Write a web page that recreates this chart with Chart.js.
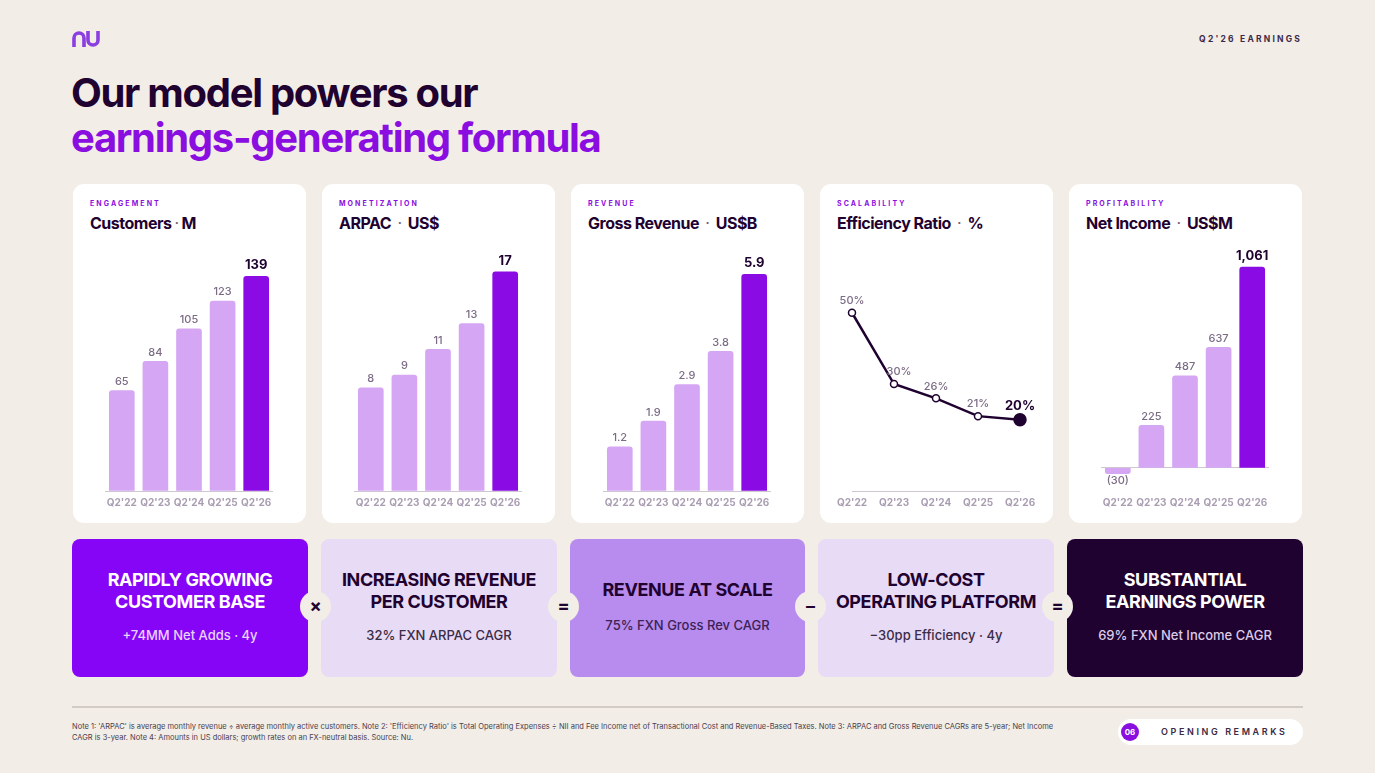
<!DOCTYPE html>
<html>
<head>
<meta charset="utf-8">
<script src="https://cdn.jsdelivr.net/npm/chart.js@4"></script>
<style>
  html, body { margin: 0; padding: 0; }
  body { width: 1375px; height: 773px; background: #f2ede6; position: relative; overflow: hidden; font-family: Inter, "Noto Sans", sans-serif; color: #1f0230; }
  .abs { position: absolute; }
  .logo { left: 72px; top: 30px; }
  .tag { right: 73px; top: 34px; font-size: 8.5px; font-weight: 700; letter-spacing: 2.2px; color: #3d2a4a; }
  .title { left: 71px; top: 70px; font-size: 40px; font-weight: 700; letter-spacing: -1.3px; line-height: 45px; }
  .title .l2 { color: #8a0ee0; }
  .card { top: 184px; width: 233px; height: 339px; background: #fff; border-radius: 11px; }
  .card .kicker { position: absolute; left: 17px; top: 15px; font-size: 7px; font-weight: 700; letter-spacing: 2.1px; color: #8a0ee0; }
  .card .head { position: absolute; left: 17px; top: 29px; font-size: 16px; font-weight: 700; letter-spacing: -0.5px; color: #1f0230; }
  .card .head .dot { font-weight: 400; color: #6e5f78; padding: 0 3px; }
  .card canvas { position: absolute; left: 0; top: 56px; }
  .box { top: 539px; height: 138px; width: 236px; border-radius: 8px; text-align: center; }
  .box .bt { position: absolute; left: 0; right: 0; font-size: 18px; font-weight: 700; letter-spacing: -0.4px; line-height: 22px; }
  .box .bs { position: absolute; left: 0; right: 0; font-size: 13px; font-weight: 500; }
  .op { width: 31px; height: 31px; border-radius: 50%; background: #f2ede6; top: 591px; text-align: center; line-height: 30px; font-size: 18px; font-weight: 700; color: #1f0230; }
  .rule { left: 72px; top: 706px; width: 1231px; height: 2px; background: #d3cbc8; }
  .note { left: 72px; top: 721px; width: 1040px; font-size: 7.5px; line-height: 11px; color: #4a4050; }
  .pill { left: 1118px; top: 719px; width: 185px; height: 26px; background: #fff; border-radius: 13px; }
  .pill .num { position: absolute; left: 3px; top: 4px; width: 18px; height: 18px; border-radius: 50%; background: #8a0ee0; color: #fff; font-size: 8px; font-weight: 700; text-align: center; line-height: 18px; }
  .pill .txt { position: absolute; left: 43px; top: 7px; font-size: 9px; font-weight: 600; letter-spacing: 2.6px; color: #3a2a45; }
</style>
</head>
<body>
<svg class="abs logo" width="30" height="18" viewBox="0 0 30 18">
  <path d="M2 17 V8 a5 5 0 0 1 10 0 V17" fill="none" stroke="#8b3fe0" stroke-width="3.6"/>
  <path d="M16 1 V10 a5 5 0 0 0 10 0 V1" fill="none" stroke="#8b3fe0" stroke-width="3.6"/>
</svg>
<div class="abs tag">Q2'26 EARNINGS</div>
<div class="abs title"><div>Our model powers our</div><div class="l2">earnings-generating formula</div></div>

<div class="abs card" style="left:73px"><div class="kicker">ENGAGEMENT</div><div class="head">Customers<span class="dot">·</span>M</div><canvas id="c1"></canvas></div>
<div class="abs card" style="left:322px"><div class="kicker">MONETIZATION</div><div class="head">ARPAC <span class="dot">·</span> US$</div><canvas id="c2"></canvas></div>
<div class="abs card" style="left:571px"><div class="kicker">REVENUE</div><div class="head">Gross Revenue <span class="dot">·</span> US$B</div><canvas id="c3"></canvas></div>
<div class="abs card" style="left:820px"><div class="kicker">SCALABILITY</div><div class="head">Efficiency Ratio <span class="dot">·</span> %</div><canvas id="c4"></canvas></div>
<div class="abs card" style="left:1069px"><div class="kicker">PROFITABILITY</div><div class="head">Net Income <span class="dot">·</span> US$M</div><canvas id="c5"></canvas></div>

<div class="abs box" style="left:72px;background:#8605f7;color:#fff">
  <div class="bt" style="top:30px">RAPIDLY GROWING<br>CUSTOMER BASE</div>
  <div class="bs" style="top:88px;color:#e9d2ff">+74MM Net Adds · 4y</div>
</div>
<div class="abs box" style="left:321px;background:#e7dbf5;color:#1f0230">
  <div class="bt" style="top:30px">INCREASING REVENUE<br>PER CUSTOMER</div>
  <div class="bs" style="top:88px;color:#3b2b48">32% FXN ARPAC CAGR</div>
</div>
<div class="abs box" style="left:570px;width:235px;background:#b88cee;color:#1f0230">
  <div class="bt" style="top:40px">REVENUE AT SCALE</div>
  <div class="bs" style="top:78px;color:#3b2257">75% FXN Gross Rev CAGR</div>
</div>
<div class="abs box" style="left:818px;background:#e7dbf5;color:#1f0230">
  <div class="bt" style="top:30px">LOW-COST<br>OPERATING PLATFORM</div>
  <div class="bs" style="top:88px;color:#3b2b48">−30pp Efficiency · 4y</div>
</div>
<div class="abs box" style="left:1067px;background:#1f0230;color:#fff">
  <div class="bt" style="top:30px">SUBSTANTIAL<br>EARNINGS POWER</div>
  <div class="bs" style="top:88px;color:#dccbe6">69% FXN Net Income CAGR</div>
</div>
<div class="abs op" style="left:300px">×</div>
<div class="abs op" style="left:548px">=</div>
<div class="abs op" style="left:795px">–</div>
<div class="abs op" style="left:1042px">=</div>

<div class="abs rule"></div>
<div class="abs note">Note 1: 'ARPAC' is average monthly revenue ÷ average monthly active customers. Note 2: 'Efficiency Ratio' is Total Operating Expenses ÷ NII and Fee Income net of Transactional Cost and Revenue-Based Taxes. Note 3: ARPAC and Gross Revenue CAGRs are 5-year; Net Income<br>CAGR is 3-year. Note 4: Amounts in US dollars; growth rates on an FX-neutral basis. Source: Nu.</div>
<div class="abs pill"><div class="num">06</div><div class="txt">OPENING REMARKS</div></div>

<script>
// Chart data
const quarters = ["Q2'22", "Q2'23", "Q2'24", "Q2'25", "Q2'26"];
const customers = [65, 84, 105, 123, 139];
const arpac = [8, 9, 11, 13, 17];
const grossRevenue = [1.2, 1.9, 2.9, 3.8, 5.9];
const efficiencyRatio = [50, 30, 26, 21, 20];
const netIncome = [-30, 225, 487, 637, 1061];

const LIGHT = '#d5a6f3';
const STRONG = '#8a0be3';
const DARK = '#1f0230';

// draws the value above every bar / point
const valueLabels = {
    id: 'valueLabels',
    afterDatasetsDraw(chart, args, opts) {
        const ctx = chart.ctx;
        const meta = chart.getDatasetMeta(0);
        const data = chart.data.datasets[0].data;
        ctx.save();
        ctx.textAlign = 'center';
        ctx.textBaseline = 'middle';
        meta.data.forEach((el, i) => {
            const last = i === data.length - 1;
            const v = data[i];
            ctx.font = last ? '700 13px Inter' : '500 11px Inter';
            ctx.fillStyle = last ? DARK : '#7b6b85';
            const txt = opts.format(v);
            let x = el.x;
            let y = v < 0 ? el.y + 7 : el.y - (last ? 11 : 9);
            if (chart.config.type === 'line') {
                y = el.y - (last ? 14 : 12);
                if (i > 0 && !last && data[i - 1] - v > 10) x += 5; // keep clear of a steep segment
            }
            ctx.fillText(txt, x, y);
        });
        ctx.restore();
    }
};

function makeChart(id, type, values, min, max, format) {
    const canvas = document.getElementById(id);
    canvas.width = 233;
    canvas.height = 277;
    const isLine = type === 'line';
    const dataset = isLine ? {
        data: values,
        borderColor: DARK,
        borderWidth: 2.5,
        tension: 0,
        pointRadius: values.map((v, i) => i === values.length - 1 ? 6 : 3.5),
        pointBackgroundColor: values.map((v, i) => i === values.length - 1 ? DARK : '#fff'),
        pointBorderColor: DARK,
        pointBorderWidth: 1.5
    } : {
        data: values,
        backgroundColor: values.map((v, i) => i === values.length - 1 ? STRONG : LIGHT),
        barThickness: 25,
        borderRadius: 3,
        borderSkipped: 'start'
    };
    return new Chart(canvas, {
        type: type,
        data: { labels: quarters, datasets: [dataset] },
        options: {
            responsive: false,
            animation: false,
            layout: { padding: { left: 32, right: 33, top: 10, bottom: 2 } },
            plugins: {
                legend: { display: false },
                tooltip: { enabled: false },
                valueLabels: { format: format }
            },
            scales: {
                x: {
                    offset: !isLine,
                    grid: { display: false, drawTicks: false },
                    border: { display: false },
                    ticks: { color: '#a99db2', font: { family: 'Inter', size: 10, weight: '700' }, padding: 6, maxRotation: 0, autoSkip: false }
                },
                y: {
                    min: min,
                    max: max,
                    afterBuildTicks: s => { s.ticks = [{ value: 0 }]; },
                    grid: { color: '#cfc6d4', lineWidth: 1, drawTicks: false },
                    border: { display: false },
                    ticks: { display: false }
                }
            }
        },
        plugins: [valueLabels]
    });
}

document.addEventListener('DOMContentLoaded', function () {
    makeChart('c1', 'bar', customers, 0, 156, v => String(v));
    makeChart('c2', 'bar', arpac, 0, 18.7, v => String(v));
    makeChart('c3', 'bar', grossRevenue, 0, 6.56, v => v.toFixed(1));
    makeChart('c4', 'line', efficiencyRatio, 0, 67.6, v => v + '%');
    makeChart('c5', 'bar', netIncome, -122, 1151, v => v < 0 ? '(' + Math.abs(v) + ')' : v.toLocaleString('en-US'));
});
</script>
</body>
</html>
